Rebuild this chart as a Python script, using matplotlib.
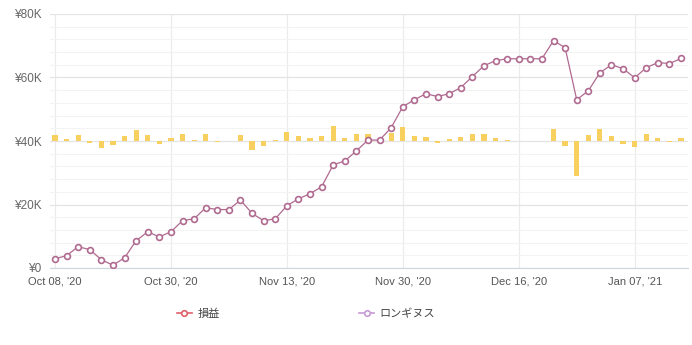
import matplotlib
matplotlib.use("Agg")
import matplotlib.pyplot as plt
from matplotlib.lines import Line2D
from matplotlib.ticker import FuncFormatter, MultipleLocator

# cumulative balance per trading day (yen)
balance = [2900, 3900, 6700, 5800, 2600, 900, 3200, 8600, 11400, 9800,
           11400, 14900, 15500, 19000, 18400, 18400, 21400, 17200, 14900, 15500,
           19600, 21800, 23400, 25600, 32500, 33700, 36900, 40300, 40300, 44200,
           50800, 53000, 54900, 54000, 54900, 56800, 60300, 63700, 65300, 65900,
           65900, 65900, 65900, 71600, 69400, 53000, 55800, 61500, 64000, 62800,
           59900, 63100, 64700, 64400, 66000]

# daily profit / loss (yen)
pnl = [2900, 1000, 2800, -900, -3200, -1700, 2300, 5400, 2800, -1600,
       1600, 3500, 600, 3500, -600, 0, 3000, -4200, -2300, 600,
       4100, 2200, 1600, 2200, 6900, 1200, 3200, 3400, 0, 3900,
       6600, 2200, 1900, -900, 900, 1900, 3500, 3400, 1600, 600,
       0, 0, 0, 5700, -2200, -16400, 2800, 5700, 2500, -1200,
       -2900, 3200, 1600, -300, 1600]

tick_pos = [0, 10, 20, 30, 40, 50]
tick_labels = ["Oct 08, '20", "Oct 30, '20", "Nov 13, '20",
               "Nov 30, '20", "Dec 16, '20", "Jan 07, '21"]

series_names = ["損益", "ロンギヌス"]

LINE_C = "#b06a90"
BAR_C = "#f8d060"
GRID_MAJOR = "#e4e4e4"
GRID_MINOR = "#f3f3f3"

fig = plt.figure(figsize=(6.92, 3.45), dpi=100)
ax = fig.add_axes([50 / 692, 1 - 268 / 345, 638 / 692, 254 / 345])
ax2 = ax.twinx()

x = list(range(len(balance)))

# bars on a hidden symmetric axis so that zero sits on the ¥40K line
ax2.bar(x, pnl, width=0.45, color=BAR_C, linewidth=0, zorder=2)
# balance line goes on the same (upper) axes but uses the left scale
ax2.plot(x, balance, transform=ax.transData, color=LINE_C, lw=0.9,
         marker="o", ms=4.2, mfc="white", mec=LINE_C, mew=1.2, zorder=3)
ax2.set_ylim(-60000, 60000)
ax2.axis("off")

ax.set_xlim(-0.43, 54.6)
ax.set_ylim(0, 80000)

ax.yaxis.set_major_locator(MultipleLocator(20000))
ax.yaxis.set_minor_locator(MultipleLocator(4000))
ax.yaxis.set_major_formatter(FuncFormatter(
    lambda v, _: "¥0" if v == 0 else f"¥{int(v / 1000)}K"))
ax.set_xticks(tick_pos)
ax.set_xticklabels(tick_labels)

ax.grid(axis="y", which="major", color=GRID_MAJOR, lw=0.9)
ax.grid(axis="y", which="minor", color=GRID_MINOR, lw=0.8)
ax.grid(axis="x", which="major", color="#ebebeb", lw=0.8)
ax.set_axisbelow(True)

for side in ("top", "right", "left"):
    ax.spines[side].set_visible(False)
ax.spines["bottom"].set_color("#ccd6e0")
ax.tick_params(axis="both", which="both", length=0)
ax.tick_params(axis="y", labelsize=8.5, labelcolor="#666666", pad=6)
ax.tick_params(axis="x", labelsize=8, labelcolor="#555555", pad=6)
for lbl in ax.get_xticklabels() + ax.get_yticklabels():
    lbl.set_family(["Liberation Sans", "DejaVu Sans"])

handles = [
    Line2D([], [], color="#e0606a", lw=1.2, marker="o", ms=4,
           mfc="white", mec="#e0606a", mew=1.2),
    Line2D([], [], color="#c79ad6", lw=1.2, marker="o", ms=4,
           mfc="white", mec="#c79ad6", mew=1.2),
]
fig.legend(handles, series_names, loc="center", ncol=2,
           bbox_to_anchor=(306 / 692, 1 - 314 / 345), frameon=False,
           handlelength=1.4, handletextpad=0.5, columnspacing=12.5,
           prop={"family": ["Noto Sans CJK JP", "DejaVu Sans"], "size": 8},
           labelcolor="#444444")

fig.savefig("out.png", dpi=100)
